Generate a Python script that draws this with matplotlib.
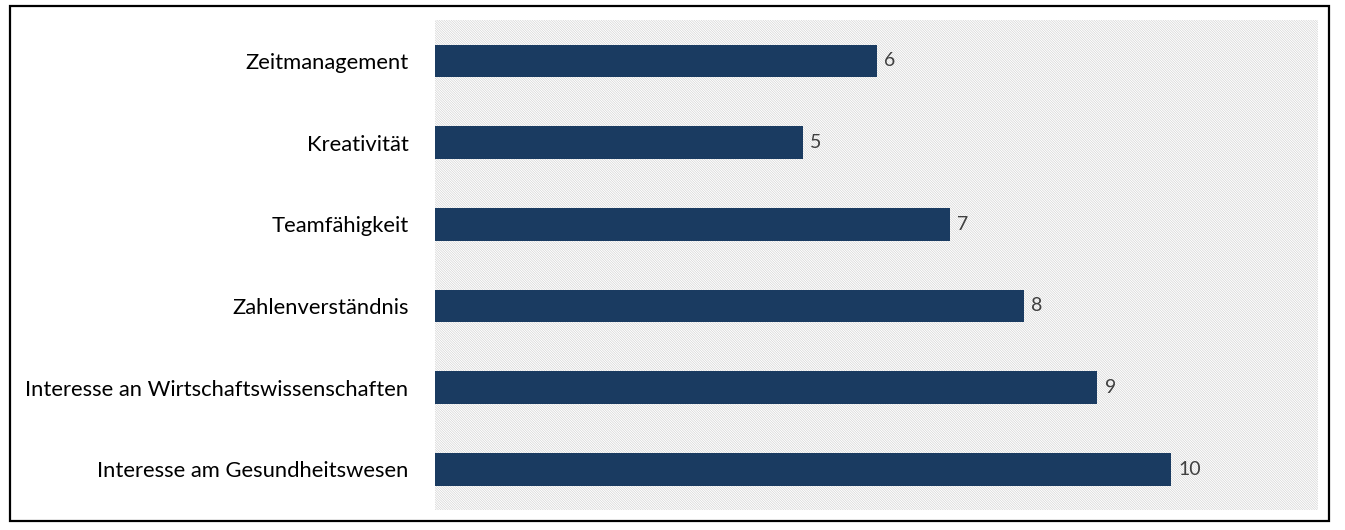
import matplotlib
matplotlib.use("Agg")
import matplotlib.pyplot as plt
from matplotlib.patches import Rectangle

categories = ["Interesse am Gesundheitswesen", "Interesse an Wirtschaftswissenschaften",
              "Zahlenverständnis", "Teamfähigkeit", "Kreativität", "Zeitmanagement"]
values = [10, 9, 8, 7, 5, 6]

plt.rcParams['hatch.linewidth'] = 0.4
plt.rcParams['hatch.color'] = '#cccccc'

fig = plt.figure(figsize=(13.45, 5.3), dpi=100)
ax = fig.add_axes([435/1345, 20/530, (1318-435)/1345, (510-20)/530])

ax.add_patch(Rectangle((0, 0), 1, 1, transform=ax.transAxes, facecolor='white',
                       edgecolor='#cccccc', hatch='\\' * 14, linewidth=0, zorder=0))

y = range(len(categories))
bars = ax.barh(y, values, height=0.4, color='#1a3b61', zorder=2)
for yi, v in zip(y, values):
    ax.text(v + 0.1, yi, str(v), va='center', ha='left', fontsize=14,
            color='#404040', family='Lato', zorder=3)

ax.set_xlim(0, 12)
ax.set_ylim(-0.5, len(categories) - 0.5)
ax.set_yticks(list(y))
ax.set_yticklabels(categories, fontsize=15.8, family='Lato', color='black')
ax.tick_params(axis='y', length=0, pad=19)
ax.set_xticks([])
for s in ax.spines.values():
    s.set_visible(False)

fig.patches.append(Rectangle((10/1345, 1 - 521/530), (1329-10)/1345, (521-6)/530,
                             transform=fig.transFigure, fill=False, edgecolor='black',
                             linewidth=1.6, zorder=10))

fig.savefig("out.png", dpi=100)
